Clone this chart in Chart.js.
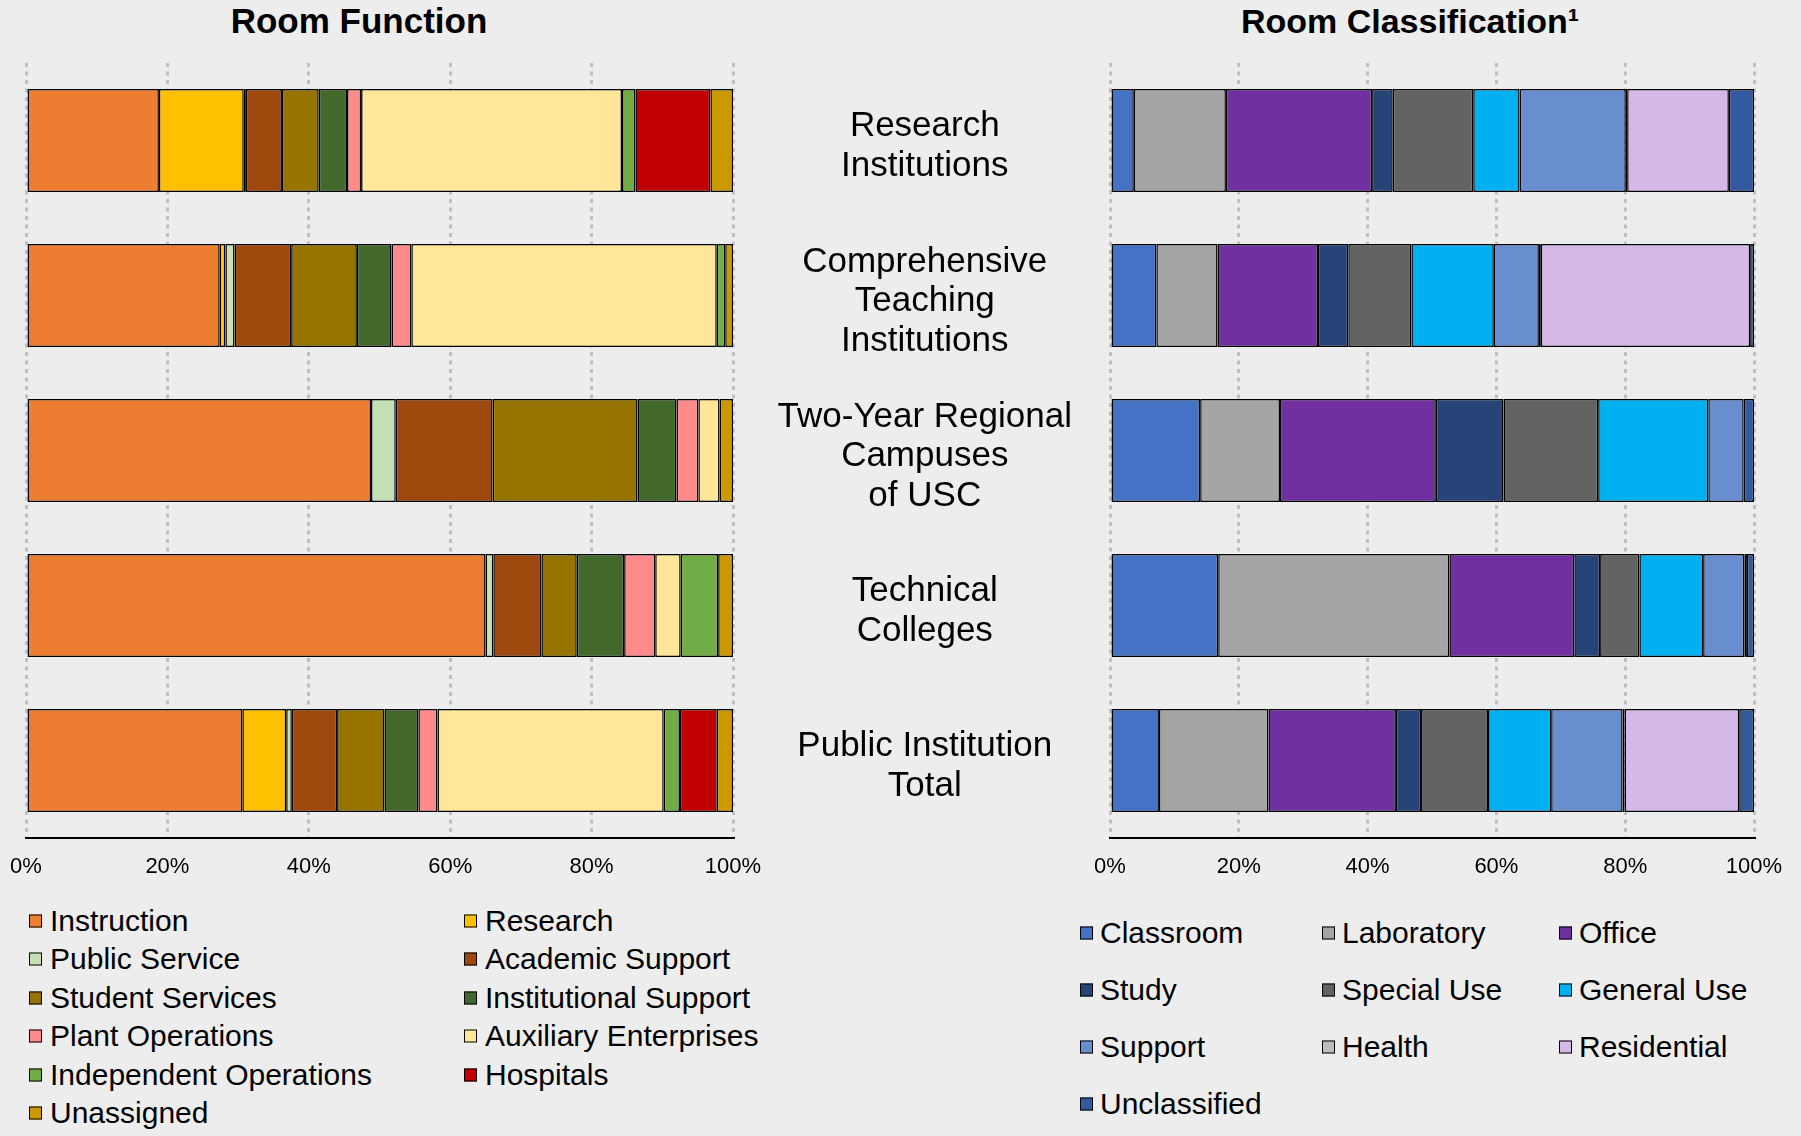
<!DOCTYPE html>
<html><head><meta charset="utf-8">
<script src="https://cdn.jsdelivr.net/npm/chart.js@4.4.1/dist/chart.umd.min.js"></script>
<style>
html,body{margin:0;padding:0;background:#ededed;width:1801px;height:1136px;overflow:hidden;font-family:'Liberation Sans',Arial,sans-serif;color:#000;}
canvas{position:absolute;top:0;}
.title{position:absolute;font-weight:bold;font-size:35px;transform:translate(-50%,-50%);white-space:nowrap;}
.lg{position:absolute;font-size:30px;white-space:nowrap;transform:translateY(-50%);line-height:34px;}
.box{position:absolute;width:11px;height:11px;border:1.5px solid #000;top:50%;transform:translateY(-50%);}
</style>
</head><body>
<div class="title" style="left:359px;top:21px;">Room Function</div>
<div class="title" style="left:1410px;top:21px;font-size:34px;">Room Classification¹</div>
<canvas id="left" width="780" height="890" style="left:0px;width:780px;height:890px;"></canvas>
<canvas id="right" width="1041" height="890" style="left:760px;width:1041px;height:890px;"></canvas>
<div id="legends"></div>
<script>
// ---- categories ----
const categories = [
  ["Research", "Institutions"],
  ["Comprehensive", "Teaching", "Institutions"],
  ["Two-Year Regional", "Campuses", "of USC"],
  ["Technical", "Colleges"],
  ["Public Institution", "Total"]
];

// ---- Room Function (%), one value per category ----
const instruction          = [18.8, 27.4, 48.8, 65.0, 30.6];
const research             = [12.0,  0.8,  0.0,  0.0,  6.2];
const publicService        = [ 0.3,  1.3,  3.5,  1.1,  0.8];
const academicSupport      = [ 5.1,  8.0, 13.7,  6.8,  6.4];
const studentServices      = [ 5.2,  9.3, 20.5,  5.0,  6.7];
const institutionalSupport = [ 4.0,  4.9,  5.5,  6.7,  4.8];
const plantOperations      = [ 2.0,  2.8,  3.1,  4.4,  2.7];
const auxiliaryEnterprises = [36.9, 43.2,  3.0,  3.6, 32.0];
const independentOps       = [ 1.9,  1.2,  0.0,  5.3,  2.3];
const hospitals            = [10.6,  0.0,  0.0,  0.0,  5.2];
const unassigned           = [ 3.2,  1.1,  1.9,  2.1,  2.3];

const functionNames = ["Instruction","Research","Public Service","Academic Support","Student Services",
  "Institutional Support","Plant Operations","Auxiliary Enterprises","Independent Operations","Hospitals","Unassigned"];
const functionValues = [instruction, research, publicService, academicSupport, studentServices,
  institutionalSupport, plantOperations, auxiliaryEnterprises, independentOps, hospitals, unassigned];
const functionColors = ["#ED7D31","#FFC000","#C5E0B4","#9E480E","#977300",
  "#43682B","#FF8A8A","#FFE699","#70AD47","#C00000","#CC9900"];

// ---- Room Classification (%) ----
const classroom    = [ 3.7,  7.2, 14.0, 16.8,  7.6];
const laboratory   = [14.3,  9.5, 12.4, 35.9, 17.0];
const office       = [22.7, 15.6, 24.2, 19.4, 19.8];
const study        = [ 3.2,  4.7, 10.5,  4.0,  3.9];
const specialUse   = [12.5,  9.8, 14.7,  6.1, 10.4];
const generalUse   = [ 7.2, 12.8, 17.1,  9.9,  9.8];
const support      = [16.5,  7.0,  5.5,  6.4, 11.1];
const health       = [ 0.2,  0.3,  0.0,  0.4,  0.3];
const residential  = [15.8, 32.5,  0.0,  0.0, 17.8];
const unclassified = [ 3.9,  0.6,  1.6,  1.1,  2.3];

const classNames = ["Classroom","Laboratory","Office","Study","Special Use","General Use",
  "Support","Health","Residential","Unclassified"];
const classValues = [classroom, laboratory, office, study, specialUse, generalUse,
  support, health, residential, unclassified];
const classColors = ["#4472C4","#A5A5A5","#7030A0","#264478","#636363","#00B0F0",
  "#698ED0","#BDBDBD","#D5B8E8","#335AA1"];

const xTickStep = 20;
const FONT = "'Liberation Sans', Arial, sans-serif";
Chart.defaults.animation = false;

function makeDatasets(names, values, colors) {
  return names.map((n, i) => ({
    label: n, data: values[i], backgroundColor: colors[i],
    borderColor: "#000", borderWidth: 1.5, borderSkipped: false,
    barPercentage: 0.665, categoryPercentage: 1
  }));
}

function xScale() {
  return {
    stacked: true, min: 0, max: 100,
    grid: { display: true, color: "#bfbfbf", lineWidth: 3, drawTicks: false },
    border: { display: true, color: "#000", width: 2, dash: [4, 4.5] },
    ticks: { stepSize: xTickStep, color: "#000", padding: 16, font: { family: FONT, size: 22 },
             callback: v => v + "%" },
    afterFit: s => { s.height = 52; s.paddingLeft = 0; s.paddingRight = 0; }
  };
}

new Chart(document.getElementById("left"), {
  type: "bar",
  data: { labels: categories, datasets: makeDatasets(functionNames, functionValues, functionColors) },
  options: {
    responsive: false, devicePixelRatio: 1, indexAxis: "y",
    layout: { padding: { left: 26, right: 47, top: 63, bottom: 0 } },
    plugins: { legend: { display: false }, tooltip: { enabled: false }, title: { display: false } },
    scales: {
      x: xScale(),
      y: { stacked: true, display: false }
    }
  }
});

new Chart(document.getElementById("right"), {
  type: "bar",
  data: { labels: categories, datasets: makeDatasets(classNames, classValues, classColors) },
  options: {
    responsive: false, devicePixelRatio: 1, indexAxis: "y",
    layout: { padding: { left: 0, right: 47, top: 63, bottom: 0 } },
    plugins: { legend: { display: false }, tooltip: { enabled: false }, title: { display: false } },
    scales: {
      x: xScale(),
      y: {
        stacked: true,
        grid: { display: false, drawTicks: false },
        border: { display: false },
        ticks: { color: "#000", crossAlign: "center", padding: 38, labelOffset: 6,
                 font: { family: FONT, size: 35, lineHeight: 1.13 } },
        afterFit: s => { s.width = 350; s.paddingTop = 0; s.paddingBottom = 0; }
      }
    }
  }
});

// ---- HTML legends built from series names/colors ----
function buildLegend(names, colors, colX, textOff, y0, dy, nCols) {
  const host = document.getElementById("legends");
  names.forEach((n, i) => {
    const c = i % nCols, r = Math.floor(i / nCols);
    const d = document.createElement("div");
    d.className = "lg";
    d.style.left = colX[c] + "px";
    d.style.top = (y0 + r * dy) + "px";
    d.style.paddingLeft = textOff + "px";
    const b = document.createElement("span");
    b.className = "box";
    b.style.left = "0px";
    b.style.background = colors[i];
    d.appendChild(b);
    d.appendChild(document.createTextNode(n));
    host.appendChild(d);
  });
}
buildLegend(functionNames, functionColors, [29, 464], 21, 921, 38.4, 2);
buildLegend(classNames, classColors, [1080, 1322, 1559], 20, 933, 57, 3);
</script>
</body></html>
